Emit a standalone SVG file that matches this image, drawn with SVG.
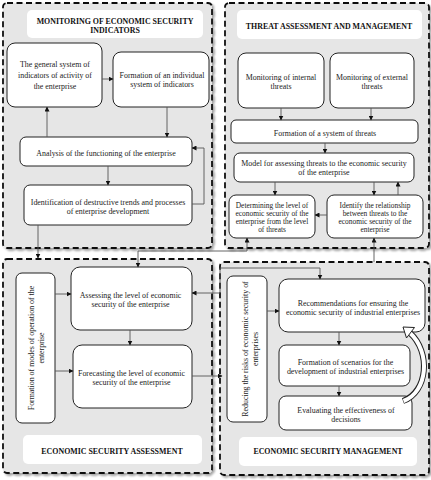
<svg xmlns="http://www.w3.org/2000/svg" width="431" height="480" viewBox="0 0 431 480">
<defs>
<marker id="ah" markerWidth="5" markerHeight="5" refX="4.5" refY="2.5" orient="auto-start-reverse" markerUnits="userSpaceOnUse">
<path d="M0,0 L5,2.5 L0,5 Z" fill="#111"/>
</marker>
<filter id="sh" x="-5%" y="-5%" width="110%" height="110%">
<feGaussianBlur in="SourceAlpha" stdDeviation="1.2"/>
<feOffset dx="1.5" dy="2" result="b"/>
<feComponentTransfer><feFuncA type="linear" slope="0.35"/></feComponentTransfer>
<feMerge><feMergeNode/><feMergeNode in="SourceGraphic"/></feMerge>
</filter>
</defs>
<style>
.panel{fill:#e6e6e6;stroke:#111;stroke-width:1.8;stroke-dasharray:6 3.5}
.box{fill:#fff;stroke:#222;stroke-width:1}
.tbox{fill:#fff;stroke:none}
text{font-family:"Liberation Serif","Times New Roman",serif;fill:#222;font-size:7.9px;text-anchor:middle}
.s{font-size:7.4px}
.t{font-weight:bold;font-size:7.9px;fill:#111}
.c{fill:none;stroke:#555;stroke-width:0.9}
.c path,.c polyline,.c line{marker-end:url(#ah)}
</style>

<g id="panels" filter="url(#sh)">
<rect class="panel" x="3" y="3" width="209" height="245" rx="4"/>
<rect class="panel" x="225" y="3" width="204" height="245" rx="4"/>
<rect class="panel" x="3" y="259" width="209" height="214" rx="4"/>
<rect class="panel" x="220" y="262" width="209" height="213" rx="4"/>
</g>

<g id="title-monitoring">
<rect class="tbox" x="27" y="10" width="176" height="28" rx="5"/>
<text class="t" x="115" y="23.5">MONITORING OF ECONOMIC SECURITY</text>
<text class="t" x="115" y="32.5">INDICATORS</text>
</g>
<g id="n-general">
<rect class="box" x="7" y="43" width="95" height="64" rx="8"/>
<text x="55" y="67">The general system of</text>
<text x="55" y="78">indicators of activity of</text>
<text x="55" y="89">the enterprise</text>
</g>
<g id="n-individual">
<rect class="box" x="113" y="52" width="96" height="55" rx="8"/>
<text x="162" y="78">Formation of an individual</text>
<text x="162" y="87">system of indicators</text>
</g>
<g id="n-analysis">
<rect class="box" x="20" y="137" width="172" height="29" rx="6"/>
<text x="106" y="155.5">Analysis of the functioning of the enterprise</text>
</g>
<g id="n-identification">
<rect class="box" x="24" y="185" width="168" height="40" rx="6"/>
<text x="108" y="204.5">Identification of destructive trends and processes</text>
<text x="108" y="213.5">of enterprise development</text>
</g>

<g id="title-threat">
<rect class="tbox" x="237" y="10" width="185" height="29" rx="5"/>
<text class="t" x="329" y="28.5">THREAT ASSESSMENT AND MANAGEMENT</text>
</g>
<g id="n-internal">
<rect class="box" x="238" y="53" width="86" height="55" rx="8"/>
<text x="281" y="80">Monitoring of internal</text>
<text x="281" y="89">threats</text>
</g>
<g id="n-external">
<rect class="box" x="330" y="53" width="84" height="55" rx="8"/>
<text x="372" y="80">Monitoring of external</text>
<text x="372" y="89">threats</text>
</g>
<g id="n-system-threats">
<rect class="box" x="231" y="120" width="187" height="23" rx="5"/>
<text x="325" y="136">Formation of a system of threats</text>
</g>
<g id="n-model">
<rect class="box" x="234" y="153" width="180" height="29" rx="6"/>
<text x="324" y="166">Model for assessing threats to the economic security</text>
<text x="324" y="175">of the enterprise</text>
</g>
<g id="n-determining">
<rect class="box" x="229" y="195" width="86" height="43" rx="7"/>
<text class="s" x="272" y="208">Determining the level of</text>
<text class="s" x="272" y="216">economic security of the</text>
<text class="s" x="272" y="224">enterprise from the level</text>
<text class="s" x="272" y="232">of threats</text>
</g>
<g id="n-identify">
<rect class="box" x="327" y="195" width="96" height="43" rx="7"/>
<text class="s" x="375" y="208">Identify the relationship</text>
<text class="s" x="375" y="216">between threats to the</text>
<text class="s" x="375" y="224">economic security of the</text>
<text class="s" x="375" y="232">enterprise</text>
</g>

<g id="n-modes">
<rect class="box" x="16" y="273" width="39" height="150" rx="6"/>
<g transform="translate(35.5,348) rotate(-90)">
<text x="0" y="-1.5">Formation of modes of operation of the</text>
<text x="0" y="8.5">enterprise</text>
</g>
</g>
<g id="n-assessing">
<rect class="box" x="71" y="267" width="121" height="63" rx="9"/>
<text x="130.5" y="298">Assessing the level of economic</text>
<text x="130.5" y="306.5">security of the enterprise</text>
</g>
<g id="n-forecasting">
<rect class="box" x="73" y="345" width="119" height="63" rx="9"/>
<text x="131.5" y="375.5">Forecasting the level of economic</text>
<text x="131.5" y="385">security of the enterprise</text>
</g>
<g id="title-assessment">
<rect class="tbox" x="23" y="435" width="179" height="29" rx="5"/>
<text class="t" x="112" y="454">ECONOMIC SECURITY ASSESSMENT</text>
</g>

<g id="n-reducing">
<rect class="box" x="227" y="276" width="40" height="146" rx="6"/>
<g transform="translate(247,349) rotate(-90)">
<text x="0" y="0.5">Reducing the risks of economic security of</text>
<text x="0" y="10.5">enterprises</text>
</g>
</g>
<g id="n-recommendations">
<rect class="box" x="279" y="279" width="146" height="53" rx="9"/>
<text x="353" y="305.5">Recommendations for ensuring the</text>
<text x="353" y="315">economic security of industrial enterprises</text>
</g>
<g id="n-scenarios">
<rect class="box" x="279" y="345" width="131" height="41" rx="7"/>
<text x="345.5" y="365">Formation of scenarios for the</text>
<text x="345.5" y="374">development of industrial enterprises</text>
</g>
<g id="n-evaluating">
<rect class="box" x="279" y="396" width="133" height="34" rx="7"/>
<text x="346" y="413">Evaluating the effectiveness of</text>
<text x="346" y="421.5">decisions</text>
</g>
<g id="title-management">
<rect class="tbox" x="239" y="437" width="178" height="29" rx="5"/>
<text class="t" x="328" y="454">ECONOMIC SECURITY MANAGEMENT</text>
</g>

<g id="connectors" class="c">
<line x1="102" y1="79" x2="113" y2="79"/>
<line x1="47" y1="137" x2="47" y2="107"/>
<line x1="167" y1="107" x2="167" y2="137"/>
<line x1="108" y1="166" x2="108" y2="185"/>
<polyline points="192,204 204,204 204,148 192,148"/>
<line x1="38" y1="225" x2="38" y2="258"/>
<line x1="281" y1="108" x2="281" y2="120"/>
<line x1="371" y1="108" x2="371" y2="120"/>
<line x1="325" y1="143" x2="325" y2="153"/>
<line x1="275" y1="182" x2="275" y2="195"/>
<line x1="374" y1="182" x2="374" y2="195"/>
<line x1="398" y1="195" x2="398" y2="182"/>
<line x1="327" y1="215" x2="315" y2="215"/>
<polyline points="247,238 247,251 138,251 138,267" style="marker-start:url(#ah)"/>
<line x1="374" y1="262" x2="374" y2="238"/>
<polyline points="320,279 320,268 220,268 220,293 192,293" style="marker-start:url(#ah)"/>
<line x1="55" y1="294" x2="71" y2="294"/>
<line x1="55" y1="371" x2="73" y2="371"/>
<line x1="130" y1="330" x2="130" y2="345"/>
<line x1="192" y1="376" x2="222" y2="376"/>
<line x1="267" y1="311" x2="279" y2="311"/>
<line x1="339" y1="332" x2="339" y2="345"/>
<line x1="339" y1="386" x2="339" y2="396"/>
</g>

<g id="curved-arrow">
<path d="M403,401 C428,392 431,352 410,333" fill="none" stroke="#222" stroke-width="6"/>
<path d="M403.5,401 C428,392 431,352 410,333" fill="none" stroke="#fff" stroke-width="4"/>
<polygon points="403,327 414.5,327.5 406.5,338" fill="#fff" stroke="#222" stroke-width="1"/>
</g>
</svg>
